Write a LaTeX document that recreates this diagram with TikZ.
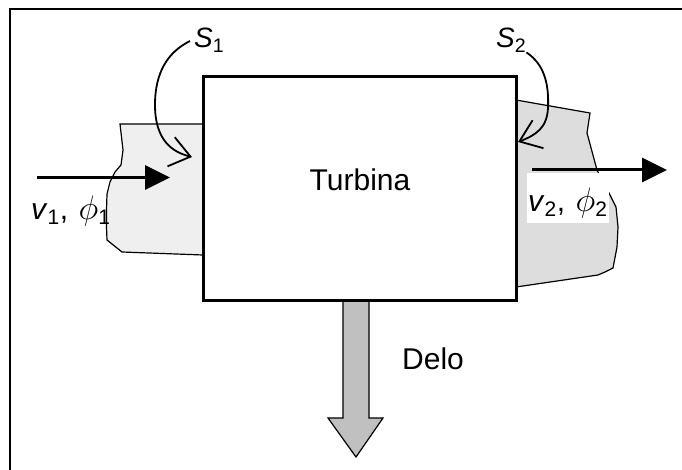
\documentclass[tikz,border=0pt]{standalone}
\usepackage{fix-cm}
\usepackage{fontspec}
\setmainfont{Liberation Sans}
\usepackage{tikz}
\usetikzlibrary{arrows.meta}
\definecolor{inshade}{HTML}{EFEFEF}
\definecolor{outshade}{HTML}{DDDDDD}
\definecolor{workgray}{HTML}{C0C0C0}
\newcommand{\flowsym}[1]{\textit{v}\textsubscript{#1},\hspace{0.35em}{\fontsize{34}{40}\selectfont$\phi$}\textsubscript{#1}}

\begin{document}
\begin{tikzpicture}[x=1pt, y=-1pt,
    turbine/.style={rectangle, draw, line width=3pt, fill=white,
        minimum width=313pt, minimum height=223pt, inner sep=0pt},
    region/.style={draw=black, line width=1.2pt},
    flow/.style={-{Triangle[length=25pt, width=24pt]}, line width=3pt},
    surf/.style={-{Straight Barb[length=20pt, width=30pt]}, line width=1.8pt},
    lbl/.style={font=\fontsize{30}{36}\selectfont, inner sep=0pt},
    slbl/.style={font=\fontsize{28}{32}\selectfont, inner sep=0pt}
]
\useasboundingbox (0,0) rectangle (682,470);
\draw[line width=2.5pt] (682,9) -- (10,9) -- (10,470);

% control surfaces at inlet and outlet
\path[region, fill=inshade] (203,124) -- (120,124) -- (123,150) -- (121,165)
    -- (115,172) -- (110,182) -- (107,194) -- (106.5,210) -- (106.5,227)
    -- (107,240) -- (122,252) -- (203,255);
\path[region, fill=outshade] (516,100) -- (590,113) -- (587,133) -- (597,170)
    -- (610,195) -- (616,207) -- (618,227) -- (617,247) -- (613,268)
    -- (605,272) -- (598,275) -- (516,287);

% work output
\path[draw=black, line width=1.2pt, fill=workgray] (343,300) -- (343,418)
    -- (328,418) -- (356,457) -- (383,418) -- (369,418) -- (369,300) -- cycle;

\node[turbine] (turb) at (359.5,188.5) {};
\node[lbl, anchor=base] (tname) at (360,191) {Turbina};
\node[lbl, anchor=base west] (delo) at (402,369) {Delo};

\coordinate (in0) at (37,177.5);
\coordinate (in1) at (170,177.5);
\coordinate (out0) at (532,170);
\coordinate (out1) at (667,170);
\draw[flow] (in0) -- (in1);
\draw[flow] (out0) -- (out1);

\node[lbl, anchor=base west] (v1) at (31,220) {\flowsym{1}};
\node[draw=none, fill=white, minimum width=82pt, minimum height=50pt] (v2box) at (568,198) {};
\node[lbl, anchor=base west] (v2) at (528,212) {\flowsym{2}};

\node[slbl, anchor=base west] (s1) at (194,48) {\textit{S}\textsubscript{1}};
\node[slbl, anchor=base west] (s2) at (496,48) {\textit{S}\textsubscript{2}};
\coordinate (s1tip) at (192,157);
\coordinate (s2tip) at (518,142);
\draw[surf] (190,41) .. controls (168,52) and (155,72) .. (155,105)
    .. controls (155,140) and (172,152) .. (s1tip);
\draw[surf] (s2.south east) .. controls (545,65) and (549,85) .. (548,108)
    .. controls (547,128) and (536,135) .. (s2tip);
\end{tikzpicture}
\end{document}
